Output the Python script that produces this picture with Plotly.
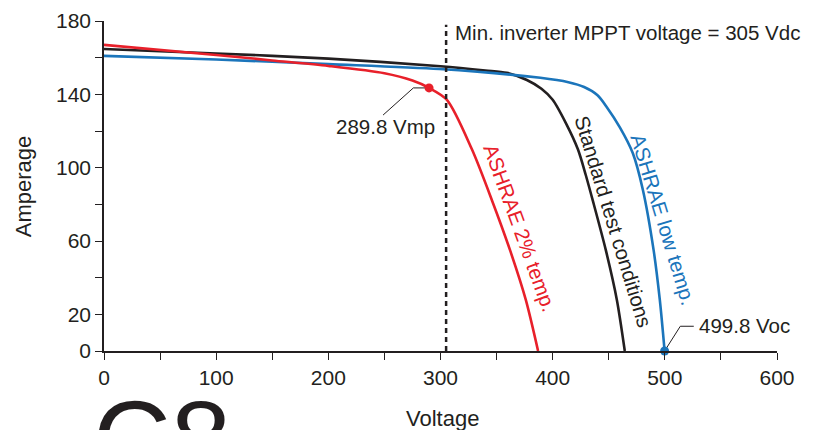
import plotly.graph_objects as go

# ---- data ----
stc_v = [0, 100, 200, 300, 340, 359, 377, 390, 400, 412, 422.5, 429.5, 435.8, 447.4, 457.2, 464.3]
stc_i = [164.7, 162.3, 159.5, 155.3, 153.0, 151.7, 147.8, 143.0, 137.0, 124.0, 110.0, 96.0, 82.0, 55.0, 28.0, 0.0]

low_v = [0, 100, 200, 299, 389, 414, 428, 440, 448.3, 459.9, 471.4, 480.4, 490, 495.5, 499.8]
low_i = [161.0, 159.0, 156.5, 153.8, 149.0, 146.6, 144.0, 139.5, 133.0, 122.0, 108.0, 88.0, 55.0, 28.0, 0.0]

hot_v = [0, 100, 150, 200, 250, 275, 289.8, 305.7, 328, 346, 362, 376, 387]
hot_i = [167.0, 161.5, 158.5, 155.5, 151.5, 147.5, 143.5, 137.0, 110.0, 82.0, 55.0, 28.0, 0.0]

vmp = (289.8, 143.5)
voc = (499.8, 0.0)
mppt_min = 305

x_tickvals = list(range(0, 601, 50))
x_ticktext = [str(v) if v % 100 == 0 else "" for v in x_tickvals]
y_tickvals = list(range(0, 181, 20))
y_labeled = [0, 20, 60, 100, 140, 180]
y_ticktext = [str(v) if v in y_labeled else "" for v in y_tickvals]

RED = "#e8202a"
BLACK = "#231f20"
BLUE = "#1b75bb"
TXT = "#231f20"
FONT = "Liberation Sans, Arial, sans-serif"
FS = 20.5

fig = go.Figure()
for v, i, c in [(stc_v, stc_i, BLACK), (low_v, low_i, BLUE), (hot_v, hot_i, RED)]:
    fig.add_trace(go.Scatter(x=v, y=i, mode="lines",
                             line=dict(color=c, width=2.6, shape="spline", smoothing=0.8),
                             hoverinfo="skip", showlegend=False))

# leader lines (relative to the marked points)
fig.add_trace(go.Scatter(x=[vmp[0], vmp[0] - 14, vmp[0] - 41], y=[vmp[1], vmp[1], vmp[1] - 14.8],
                         mode="lines", line=dict(color=TXT, width=1), showlegend=False, hoverinfo="skip"))
fig.add_trace(go.Scatter(x=[voc[0], voc[0] + 14, voc[0] + 26], y=[voc[1], voc[1] + 13.5, voc[1] + 13.5],
                         mode="lines", line=dict(color=TXT, width=1), showlegend=False, hoverinfo="skip",
                         cliponaxis=False))
# points
fig.add_trace(go.Scatter(x=[vmp[0]], y=[vmp[1]], mode="markers",
                         marker=dict(color=RED, size=9), showlegend=False, hoverinfo="skip"))
fig.add_trace(go.Scatter(x=[voc[0]], y=[voc[1]], mode="markers",
                         marker=dict(color=BLUE, size=9), showlegend=False, hoverinfo="skip", cliponaxis=False))

fig.add_shape(type="line", x0=mppt_min, x1=mppt_min, y0=0, y1=178, xref="x", yref="y",
              line=dict(color=TXT, width=2.5, dash="5px,4px"))

ann = [
    dict(x=mppt_min, y=173.5, text="Min. inverter MPPT voltage = 305 Vdc", xanchor="left", yanchor="middle",
         xshift=7, font=dict(size=FS, color=TXT)),
    dict(x=vmp[0] - 38.5, y=vmp[1] - 21.3, text="289.8 Vmp", xanchor="center", yanchor="middle",
         font=dict(size=FS, color=TXT)),
    dict(x=voc[0] + 26, y=voc[1] + 14, text="499.8 Voc", xanchor="left", yanchor="middle",
         xshift=3, font=dict(size=FS, color=TXT)),
    dict(x=371.5, y=67, text="ASHRAE 2% temp.", textangle=70, font=dict(size=FS, color=RED)),
    dict(x=454, y=70.4, text="Standard test conditions", textangle=73, font=dict(size=FS, color=TXT)),
    dict(x=498.5, y=71.5, text="ASHRAE low temp.", textangle=73, font=dict(size=FS, color=BLUE)),
    # axis titles
    dict(x=0.503, y=-0.205, xref="paper", yref="paper", text="Voltage", xanchor="center", yanchor="middle",
         font=dict(size=22, color=TXT)),
    dict(x=-0.12, y=0.5, xref="paper", yref="paper", text="Amperage", textangle=-90,
         xanchor="center", yanchor="middle", font=dict(size=22, color=TXT)),
    # large partial heading at the bottom edge
    dict(x=0.086, y=-0.076, xref="paper", yref="paper", text="C8", xanchor="center", yanchor="top",
         font=dict(size=108, color=TXT)),
]
for a in ann:
    a.setdefault("showarrow", False)
    fig.add_annotation(**a)

fig.update_layout(
    width=833, height=430, margin=dict(l=104, r=56, t=21, b=79, autoexpand=False),
    paper_bgcolor="white", plot_bgcolor="white",
    font=dict(family=FONT, size=FS, color=TXT),
    xaxis=dict(range=[0, 600], tickvals=x_tickvals, ticktext=x_ticktext, ticks="outside", ticklen=7,
               tickwidth=1.3, tickcolor=TXT, showline=True, linecolor=TXT, linewidth=1.5,
               showgrid=False, zeroline=False, tickfont=dict(size=21), automargin=False),
    yaxis=dict(range=[0, 180], tickvals=y_tickvals, ticktext=y_ticktext, ticks="outside", ticklen=7,
               tickwidth=1.3, tickcolor=TXT, showline=True, linecolor=TXT, linewidth=1.5,
               showgrid=False, zeroline=False, tickfont=dict(size=21), automargin=False),
)
fig.write_html("out.html")
